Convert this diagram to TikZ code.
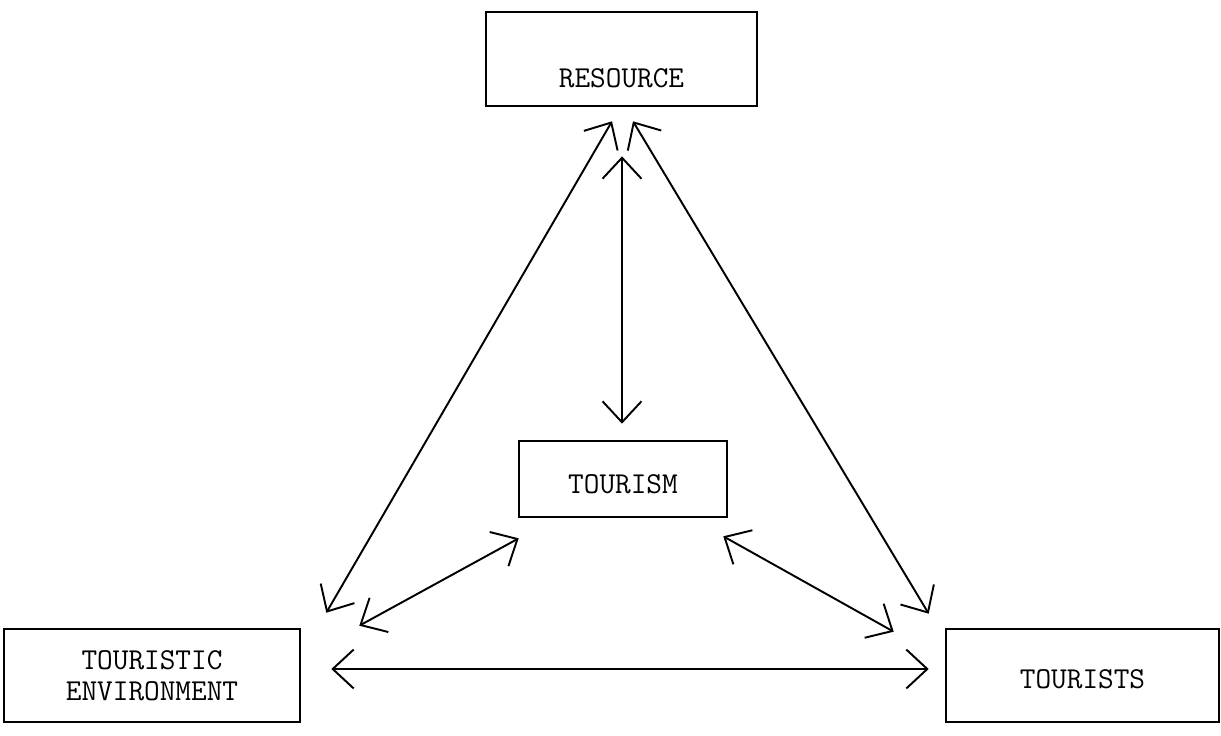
\documentclass[tikz,border=0pt]{standalone}
\usepackage{fontspec}
\usetikzlibrary{arrows.meta}

\begin{document}
\begin{tikzpicture}[
x=0.02cm, y=-0.02cm,
boxnode/.style={rectangle, draw=black, line width=1.5pt, inner sep=0pt,
  font=\ttfamily\fontsize{17.3}{17.6}\selectfont, align=center},
link/.style={line width=1.1pt, >={Straight Barb[length=4.2mm,width=7.8mm]}, <->},
]
\useasboundingbox (0,0) rectangle (1221,735);
%Nodes
\node[boxnode, minimum width=5.42cm, minimum height=1.88cm, text height=1.12cm, text depth=0pt] (resource) at (621.5,59) {RESOURCE};
\node[boxnode, minimum width=4.16cm, minimum height=1.52cm, text height=0.56cm, text depth=0pt] (tourism) at (623,479) {TOURISM};
\node[boxnode, minimum width=5.92cm, minimum height=1.86cm] (environment) at (152,675.5) {TOURISTIC\\ENVIRONMENT};
\node[boxnode, minimum width=5.46cm, minimum height=1.86cm, text height=0.5cm, text depth=0pt] (tourists) at (1082.5,675.5) {TOURISTS};

%Lines
\draw[link] ([shift={(0.5,49)}]resource.south) -- ([shift={(-1,-16)}]tourism.north);
\draw[link] ([shift={(-9.5,14)}]resource.south) -- ([shift={(25,-15)}]environment.north east);
\draw[link] ([shift={(11.5,14)}]resource.south) -- ([shift={(-16,-14)}]tourists.north west);
\draw[link] ([shift={(1,20)}]tourism.south west) -- ([shift={(58,-2)}]environment.north east);
\draw[link] ([shift={(-5,18)}]tourism.south east) -- ([shift={(-51,4)}]tourists.north west);
\draw[link] ([shift={(30,-6.5)}]environment.east) -- ([shift={(-16,-6.5)}]tourists.west);
\end{tikzpicture}
\end{document}
